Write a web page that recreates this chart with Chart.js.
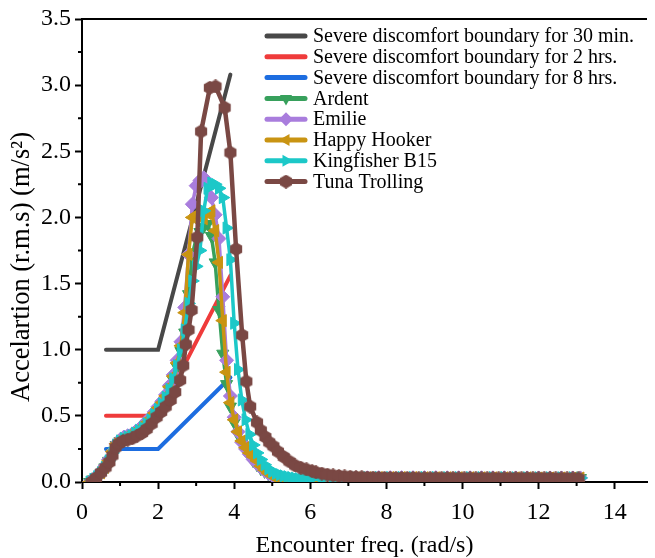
<!DOCTYPE html>
<html>
<head>
<meta charset="utf-8">
<script src="https://cdn.jsdelivr.net/npm/chart.js@4.4.1/dist/chart.umd.min.js"></script>
<style>
  body { margin: 0; background: #fff; }
  canvas { display: block; }
</style>
</head>
<body>
<canvas id="chart" width="655" height="558"></canvas>
<script>
// ---- data ----
const xTicks = [0, 2, 4, 6, 8, 10, 12, 14];
const xMinor = [1, 3, 5, 7, 9, 11, 13];
const yTicks = [0, 0.5, 1.0, 1.5, 2.0, 2.5, 3.0, 3.5];
const yMinor = [0.25, 0.75, 1.25, 1.75, 2.25, 2.75, 3.25];

const xTitle = 'Encounter freq. (rad/s)';
const yTitle = 'Accelartion (r.m.s) (m/s\u00B2)';

// ISO severe discomfort boundaries
const boundFreq = [0.63, 2.0, 3.9];
const bound30min = [1.0, 1.0, 3.08];
const bound2hrs = [0.5, 0.5, 1.56];
const bound8hrs = [0.25, 0.25, 0.79];

// encounter frequencies for the four smaller vessels
const shipFreq = [
  0.2, 0.3, 0.4, 0.5, 0.6, 0.7, 0.8, 0.9, 1.0, 1.1,
  1.2, 1.3, 1.4, 1.5, 1.6, 1.7, 1.8, 1.9, 2.0, 2.1,
  2.2, 2.3, 2.4, 2.5, 2.6, 2.7, 2.8, 2.9, 3.0, 3.1,
  3.2, 3.3, 3.4, 3.5, 3.6, 3.7, 3.8, 3.9, 4.0, 4.1,
  4.2, 4.3, 4.4, 4.5, 4.6, 4.7, 4.8, 4.9, 5.0, 5.1,
  5.2, 5.3, 5.4, 5.5, 5.6, 5.7, 5.8, 5.9, 6.0, 6.3,
  6.6, 6.9, 7.2, 7.5, 7.8, 8.1, 8.4, 8.7, 9.0, 9.3,
  9.6, 9.9, 10.2, 10.5, 10.8, 11.1, 11.4, 11.7, 12.0, 12.3,
  12.6, 12.9, 13.1
];
const ardent = [
  0, 0.02, 0.04, 0.07, 0.11, 0.16, 0.22, 0.28, 0.31, 0.33,
  0.34, 0.35, 0.37, 0.39, 0.41, 0.44, 0.47, 0.5, 0.54, 0.58,
  0.63, 0.69, 0.77, 0.87, 0.99, 1.13, 1.42, 1.72, 1.84, 1.89,
  1.93, 1.95, 1.86, 1.66, 1.3, 0.97, 0.74, 0.57, 0.45, 0.36,
  0.29, 0.24, 0.2, 0.16, 0.13, 0.1, 0.08, 0.06, 0.045, 0.035,
  0.028, 0.022, 0.018, 0.015, 0.013, 0.012, 0.012, 0.013, 0.014, 0.018,
  0.022, 0.026, 0.029, 0.031, 0.032, 0.032, 0.032, 0.032, 0.032, 0.031,
  0.031, 0.031, 0.031, 0.031, 0.031, 0.031, 0.03, 0.03, 0.03, 0.03,
  0.03, 0.03, 0.03
];
const emilie = [
  0, 0.02, 0.05, 0.08, 0.12, 0.17, 0.23, 0.29, 0.32, 0.34,
  0.35, 0.36, 0.38, 0.4, 0.43, 0.46, 0.49, 0.53, 0.57, 0.61,
  0.66, 0.73, 0.81, 0.92, 1.06, 1.32, 1.72, 2.1, 2.24, 2.28,
  2.3, 2.26, 2.15, 2.02, 1.84, 1.4, 0.92, 0.65, 0.49, 0.38,
  0.3, 0.25, 0.21, 0.17, 0.14, 0.11, 0.085, 0.065, 0.05, 0.038,
  0.03, 0.024, 0.02, 0.017, 0.015, 0.014, 0.014, 0.015, 0.016, 0.019,
  0.023, 0.027, 0.03, 0.032, 0.033, 0.033, 0.033, 0.033, 0.033, 0.033,
  0.032, 0.032, 0.032, 0.032, 0.032, 0.032, 0.031, 0.031, 0.031, 0.031,
  0.031, 0.031, 0.031
];
const happyHooker = [
  0, 0.02, 0.04, 0.07, 0.11, 0.16, 0.23, 0.29, 0.32, 0.33,
  0.35, 0.36, 0.38, 0.4, 0.42, 0.45, 0.48, 0.52, 0.56, 0.6,
  0.65, 0.72, 0.8, 0.9, 1.03, 1.28, 1.72, 2.0, 2.02, 2.0,
  1.99, 2.03, 2.05, 1.9, 1.66, 1.22, 0.83, 0.6, 0.47, 0.38,
  0.31, 0.26, 0.22, 0.19, 0.16, 0.12, 0.09, 0.065, 0.045, 0.033,
  0.025, 0.02, 0.016, 0.013, 0.011, 0.01, 0.01, 0.011, 0.012, 0.016,
  0.021, 0.026, 0.03, 0.032, 0.033, 0.033, 0.033, 0.033, 0.032, 0.032,
  0.032, 0.032, 0.032, 0.031, 0.031, 0.031, 0.031, 0.031, 0.03, 0.03,
  0.03, 0.03, 0.03
];
const kingfisher = [
  0, 0.02, 0.04, 0.07, 0.11, 0.16, 0.22, 0.28, 0.31, 0.33,
  0.34, 0.35, 0.37, 0.39, 0.41, 0.44, 0.47, 0.51, 0.55, 0.59,
  0.64, 0.7, 0.78, 0.88, 1.0, 1.15, 1.35, 1.52, 1.63, 1.75,
  2.05, 2.22, 2.26, 2.25, 2.22, 2.15, 1.92, 1.68, 1.2, 0.85,
  0.62, 0.47, 0.36, 0.28, 0.22, 0.17, 0.13, 0.1, 0.08, 0.065,
  0.055, 0.046, 0.04, 0.034, 0.029, 0.025, 0.022, 0.02, 0.019, 0.02,
  0.023, 0.027, 0.031, 0.033, 0.034, 0.034, 0.034, 0.034, 0.034, 0.034,
  0.033, 0.033, 0.033, 0.033, 0.033, 0.033, 0.032, 0.032, 0.032, 0.032,
  0.032, 0.032, 0.031
];

// Tuna Trolling has its own frequency points
const tunaFreq = [
  0.25, 0.37, 0.5, 0.62, 0.72, 0.8, 0.88, 0.96, 1.08, 1.2,
  1.32, 1.45, 1.58, 1.7, 1.83, 1.96, 2.08, 2.2, 2.33, 2.45,
  2.58, 2.66, 2.73, 2.8, 2.88, 3.03, 3.13, 3.36, 3.51, 3.75,
  3.9, 4.05, 4.21, 4.32, 4.42, 4.6, 4.7, 4.82, 4.92, 5.03,
  5.15, 5.3, 5.45, 5.6, 5.75, 5.9, 6.05, 6.15, 6.3, 6.45,
  6.6, 6.75, 6.9, 7.05, 7.2, 7.35, 7.5, 7.65, 7.8, 7.95,
  8.1, 8.25, 8.4, 8.55, 8.7, 8.85, 9.0, 9.15, 9.3, 9.45,
  9.6, 9.75, 9.9, 10.05, 10.2, 10.35, 10.5, 10.65, 10.8, 10.95,
  11.1, 11.25, 11.4, 11.55, 11.7, 11.85, 12.0, 12.15, 12.3, 12.45,
  12.6, 12.75, 12.9, 13.05
];
const tunaTrolling = [
  0, 0.03, 0.07, 0.11, 0.15, 0.2, 0.26, 0.29, 0.31, 0.32,
  0.33, 0.35, 0.37, 0.4, 0.44, 0.49, 0.53, 0.57, 0.62, 0.68,
  0.77, 0.88, 1.04, 1.15, 1.3, 1.85, 2.65, 2.98, 2.99, 2.83,
  2.49, 1.76, 1.11, 0.76, 0.57, 0.45, 0.39, 0.34, 0.3, 0.27,
  0.23, 0.19, 0.155, 0.125, 0.108, 0.095, 0.082, 0.073, 0.064, 0.056,
  0.05, 0.046, 0.042, 0.04, 0.037, 0.036, 0.034, 0.033, 0.032, 0.031,
  0.031, 0.03, 0.03, 0.03, 0.03, 0.029, 0.029, 0.029, 0.029, 0.029,
  0.029, 0.029, 0.028, 0.028, 0.028, 0.028, 0.028, 0.028, 0.028, 0.028,
  0.028, 0.028, 0.028, 0.028, 0.028, 0.028, 0.028, 0.028, 0.028, 0.027,
  0.027, 0.027, 0.027, 0.027
];

// ---- styling ----
const serif = "'Liberation Serif', 'Times New Roman', serif";
Chart.defaults.font.family = serif;
Chart.defaults.color = '#000';

function hexagon(size, color) {
  const c = document.createElement('canvas');
  c.width = size; c.height = size;
  const g = c.getContext('2d');
  const r = size / 2;
  g.fillStyle = color;
  g.beginPath();
  for (let k = 0; k < 6; k++) {
    const a = Math.PI / 3 * k + Math.PI / 6;
    g.lineTo(r + r * Math.cos(a), r + r * Math.sin(a));
  }
  g.closePath();
  g.fill();
  return c;
}

function pts(xs, ys) {
  return xs.map((x, i) => ({ x: x, y: ys[i] }));
}

function boundary(label, ys, color, order) {
  return {
    label: label, data: pts(boundFreq, ys), order: order,
    borderColor: color, backgroundColor: color,
    borderWidth: 4, borderCapStyle: 'round', pointRadius: 0, tension: 0
  };
}

function vessel(label, xs, ys, color, style, rot, order, width) {
  return {
    label: label, data: pts(xs, ys), order: order,
    borderColor: color, backgroundColor: color,
    pointBackgroundColor: color, pointBorderColor: color,
    borderWidth: width || 3.5, pointRadius: 7, pointBorderWidth: 1,
    pointStyle: style, rotation: rot, tension: 0
  };
}

const brown = '#7a4844';

const datasets = [
  boundary('Severe discomfort boundary for 30 min.', bound30min, '#484848', 7),
  boundary('Severe discomfort boundary for 2 hrs.', bound2hrs, '#ef3b3b', 6),
  boundary('Severe discomfort boundary for 8 hrs.', bound8hrs, '#1d6de0', 5),
  vessel('Ardent', shipFreq, ardent, '#37a05c', 'triangle', 180, 4),
  vessel('Emilie', shipFreq, emilie, '#a97ddd', 'rectRot', 0, 3),
  vessel('Happy Hooker', shipFreq, happyHooker, '#c99412', 'triangle', 270, 2),
  vessel('Kingfisher B15', shipFreq, kingfisher, '#1cc8c8', 'triangle', 90, 1),
  vessel('Tuna Trolling', tunaFreq, tunaTrolling, brown, hexagon(14, brown), 0, 0, 4.5)
];

function drawMarker(ctx, ds, x, y) {
  const r = 7;
  ctx.fillStyle = ds.pointBackgroundColor;
  if (ds.pointStyle instanceof HTMLCanvasElement) {
    ctx.drawImage(ds.pointStyle, x - ds.pointStyle.width / 2, y - ds.pointStyle.height / 2);
    return;
  }
  ctx.beginPath();
  if (ds.pointStyle === 'rectRot') {
    ctx.moveTo(x, y - r); ctx.lineTo(x + r, y); ctx.lineTo(x, y + r); ctx.lineTo(x - r, y);
  } else {
    let rad = ds.rotation * Math.PI / 180;
    for (let k = 0; k < 3; k++) {
      ctx.lineTo(x + Math.sin(rad) * r, y - Math.cos(rad) * r);
      rad += 2 * Math.PI / 3;
    }
  }
  ctx.closePath();
  ctx.fill();
}

const decor = {
  id: 'decor',
  afterDraw(chart) {
    const { ctx, chartArea: a, scales: { x, y } } = chart;
    ctx.save();
    ctx.strokeStyle = '#000';
    ctx.lineWidth = 2;
    ctx.beginPath();
    ctx.moveTo(a.left - 1, a.top);
    ctx.lineTo(a.right, a.top);
    xMinor.forEach(v => {
      const px = x.getPixelForValue(v);
      ctx.moveTo(px, a.bottom); ctx.lineTo(px, a.bottom + 4);
    });
    yMinor.forEach(v => {
      const py = y.getPixelForValue(v);
      ctx.moveTo(a.left, py); ctx.lineTo(a.left - 4, py);
    });
    ctx.stroke();

    // y axis title
    ctx.save();
    ctx.translate(22, 267);
    ctx.rotate(-Math.PI / 2);
    ctx.font = '26.5px ' + serif;
    ctx.fillStyle = '#000';
    ctx.textAlign = 'center';
    ctx.textBaseline = 'middle';
    ctx.fillText(yTitle, 0, 0);
    ctx.restore();

    // legend
    ctx.font = '20px ' + serif;
    ctx.textAlign = 'left';
    ctx.textBaseline = 'middle';
    chart.data.datasets.forEach((ds, i) => {
      const ly = 36 + i * 20.8;
      ctx.strokeStyle = ds.borderColor;
      ctx.lineWidth = 5;
      ctx.lineCap = 'round';
      ctx.beginPath();
      ctx.moveTo(267, ly); ctx.lineTo(305, ly);
      ctx.stroke();
      if (ds.pointRadius > 0) drawMarker(ctx, ds, 286, ly);
      ctx.fillStyle = '#000';
      ctx.fillText(ds.label, 313, ly + 1);
    });
    ctx.restore();
  }
};

new Chart(document.getElementById('chart'), {
  type: 'line',
  data: { datasets: datasets },
  options: {
    responsive: false,
    animation: false,
    layout: { padding: { top: 19, right: 0, left: 0, bottom: 0 } },
    plugins: { legend: { display: false }, tooltip: { enabled: false } },
    scales: {
      x: {
        type: 'linear', min: 0, max: 14.85,
        afterBuildTicks: s => { s.ticks = xTicks.map(v => ({ value: v })); },
        afterFit: s => { s.height = 76; },
        ticks: { font: { size: 24 }, color: '#000', padding: 9, maxRotation: 0, callback: v => String(v) },
        grid: { drawOnChartArea: false, tickLength: 7, tickWidth: 2, tickColor: '#000' },
        border: { color: '#000', width: 2 },
        title: { display: true, text: xTitle, font: { size: 24 }, color: '#000', padding: { top: 0, bottom: -2 } }
      },
      y: {
        type: 'linear', min: 0, max: 3.5,
        afterBuildTicks: s => { s.ticks = yTicks.map(v => ({ value: v })); },
        afterFit: s => { s.width = 82; },
        ticks: { font: { size: 24 }, color: '#000', padding: 4, callback: v => v.toFixed(1) },
        grid: { drawOnChartArea: false, tickLength: 7, tickWidth: 2, tickColor: '#000' },
        border: { color: '#000', width: 2 }
      }
    }
  },
  plugins: [decor]
});
</script>
</body>
</html>
